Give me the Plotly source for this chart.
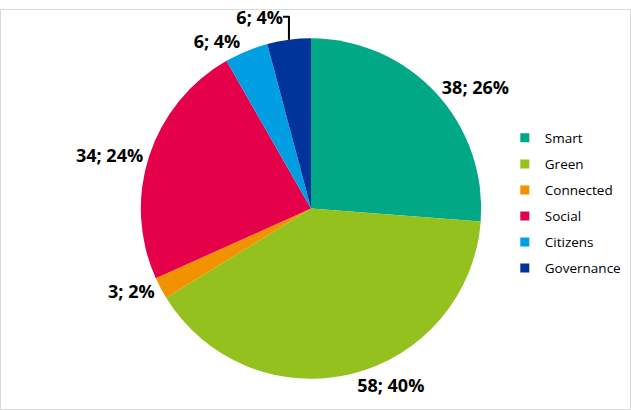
import plotly.graph_objects as go

categories = ["Smart", "Green", "Connected", "Social", "Citizens", "Governance"]
values = [38, 58, 3, 34, 6, 6]
percent_labels = ["26%", "40%", "2%", "24%", "4%", "4%"]
colors = ["#00A886", "#95C11F", "#F39200", "#E5004A", "#009FE3", "#00349A"]

text_labels = [f"{v}; {p}" for v, p in zip(values, percent_labels)]

W, H = 631, 410
cx, cy, r = 311, 204, 174

fig = go.Figure()
fig.add_trace(go.Pie(
    labels=categories,
    values=values,
    text=text_labels,
    texttemplate="%{text}",
    textposition="outside",
    sort=False,
    direction="clockwise",
    rotation=0,
    marker=dict(colors=colors, line=dict(width=0)),
    outsidetextfont=dict(family="Open Sans", size=18, color="#000000", weight="bold"),
    domain=dict(x=[(cx - r) / W, (cx + r) / W], y=[(H - cy - r) / H, (H - cy + r) / H]),
    hoverinfo="label+value+percent",
    showlegend=False,
))

for name, col in zip(categories, colors):
    fig.add_trace(go.Scatter(
        x=[None], y=[None], mode="markers", name=name, legendgroup=name,
        marker=dict(symbol="square", size=9, color=col),
        hoverinfo="skip",
    ))

fig.update_layout(
    width=W, height=H,
    margin=dict(l=0, r=0, t=0, b=0),
    paper_bgcolor="white",
    plot_bgcolor="white",
    font=dict(family="Open Sans", size=13.5, color="#000000"),
    showlegend=True,
    xaxis=dict(visible=False),
    yaxis=dict(visible=False),
    legend=dict(x=0.800, y=0.516, xanchor="left", yanchor="middle",
                font=dict(size=13.5), itemwidth=30, traceorder="grouped",
                tracegroupgap=5.5, bgcolor="rgba(0,0,0,0)"),
    shapes=[dict(type="rect", xref="paper", yref="paper", x0=0.0008, x1=0.9992, y0=0.0012, y1=0.9988,
                 line=dict(color="#D9D9D9", width=1), fillcolor="rgba(0,0,0,0)", layer="below")],
)

fig.write_html("out.html", config={"displayModeBar": False},
               post_script="document.body.style.margin='0';document.body.style.overflow='hidden';")
